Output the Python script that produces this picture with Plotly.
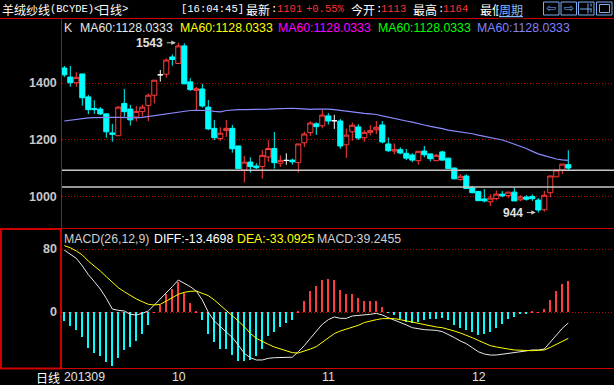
import plotly.graph_objects as go

W, H = 614, 385

# ---------------- data ----------------
idx = list(range(85))
open_ = [1454, 1422, 1402, 1433, 1352, 1311, 1309, 1292, 1225, 1215,
         1329, 1309, 1281, 1300, 1322, 1358, 1430, 1432, 1493, 1470,
         1532, 1405, 1375, 1380, 1316, 1241, 1205, 1233, 1241, 1179,
         1094, 1122, 1108, 1106, 1140, 1170, 1118, 1128, 1129, 1120,
         1190, 1226, 1257, 1250, 1285, 1268, 1267, 1183, 1229, 1246,
         1208, 1227, 1236, 1253, 1186, 1161, 1166, 1153, 1147, 1127,
         1161, 1151, 1127, 1158, 1136, 1101, 1061, 1073, 1032, 1018,
         992, 982, 993, 1009, 1004, 1016, 989, 999, 1001, 988,
         954, 1014, 1070, 1094, 1113]
high = [1461, 1461, 1439, 1433, 1359, 1340, 1316, 1295, 1257, 1320,
        1380, 1324, 1320, 1325, 1364, 1411, 1447, 1488, 1502, 1543,
        1541, 1418, 1387, 1398, 1341, 1271, 1245, 1271, 1253, 1179,
        1144, 1139, 1118, 1165, 1200, 1228, 1146, 1153, 1134, 1186,
        1229, 1266, 1262, 1306, 1295, 1289, 1274, 1241, 1262, 1256,
        1235, 1252, 1267, 1267, 1209, 1188, 1174, 1168, 1153, 1160,
        1179, 1151, 1151, 1162, 1136, 1103, 1080, 1079, 1038, 1021,
        1027, 1009, 1022, 1020, 1016, 1031, 1005, 1005, 1008, 995,
        1020, 1073, 1094, 1115, 1164]
low = [1422, 1388, 1388, 1321, 1291, 1292, 1288, 1208, 1194, 1215,
       1282, 1251, 1266, 1282, 1266, 1329, 1406, 1420, 1462, 1470,
       1398, 1373, 1306, 1314, 1235, 1200, 1197, 1211, 1155, 1099,
       1050, 1085, 1098, 1064, 1123, 1099, 1105, 1113, 1113, 1085,
       1175, 1214, 1218, 1241, 1255, 1239, 1169, 1137, 1197, 1200,
       1194, 1216, 1221, 1188, 1158, 1150, 1150, 1129, 1122, 1113,
       1139, 1124, 1125, 1127, 1099, 1061, 1056, 1027, 1012, 986,
       980, 967, 987, 998, 995, 985, 984, 986, 985, 944,
       947, 998, 1070, 1080, 1094]
close = [1430, 1402, 1421, 1349, 1307, 1307, 1292, 1229, 1220, 1316,
         1300, 1271, 1301, 1316, 1358, 1411, 1430, 1482, 1484, 1532,
         1398, 1378, 1381, 1320, 1239, 1208, 1224, 1241, 1169, 1099,
         1122, 1106, 1102, 1146, 1170, 1120, 1128, 1128, 1123, 1186,
         1221, 1260, 1247, 1288, 1267, 1268, 1179, 1217, 1252, 1207,
         1227, 1233, 1245, 1193, 1162, 1166, 1154, 1136, 1129, 1160,
         1148, 1134, 1146, 1129, 1099, 1063, 1072, 1029, 1014, 986,
         985, 995, 1009, 1003, 1016, 985, 999, 991, 993, 953,
         1005, 1073, 1094, 1115, 1101]
ma60 = [1267, 1270, 1274, 1276, 1278, 1279, 1280, 1280, 1280, 1280,
        1279, 1278, 1278, 1280, 1283, 1286, 1289, 1293, 1297, 1300,
        1302, 1304, 1305, 1305, 1304, 1301, 1299, 1304, 1306, 1307,
        1307, 1307, 1308, 1308, 1309, 1310, 1311, 1312, 1312, 1311,
        1309, 1308, 1309, 1310, 1309, 1307, 1304, 1301, 1299, 1296,
        1294, 1292, 1290, 1285, 1280, 1276, 1271, 1267, 1263, 1259,
        1253, 1248, 1245, 1240, 1235, 1232, 1228, 1225, 1222, 1217,
        1213, 1209, 1204, 1200, 1193, 1186, 1178, 1170, 1160, 1151,
        1145, 1138, 1133, 1130, 1128.0333]
macd_hist = [-11, -17, -22, -31, -45, -52, -56, -63.5, -68, -58,
             -48, -44, -36, -27, -16, 0.3, 9, 23, 30, 39,
             25, 12, 2, -10, -27, -38, -47, -47, -54, -62,
             -62, -60.5, -55, -46, -30, -25, -18, -14, -10, 1,
             14, 27.5, 34, 41, 42, 41, 28, 23, 23, 18.6,
             14, 14, 14, 7, -0.5, -4, -9, -12, -14, -12,
             -10, -9, -8, -7, -10, -16, -19.5, -22, -25, -29,
             -28, -24.5, -20, -15, -8.5, -5.5, -2.5, -1, 1.7, 0.3,
             4, 16, 27, 36, 39.2455]
diff = [79, 73.7, 68.6, 59, 48, 39, 29.6, 17.8, 4.2, 2.5,
        1.7, -2.5, -3.4, -1.3, 1.7, 9.3, 17, 24, 32.6, 41,
        36.8, 32.6, 27, 15.7, 0, -11, -18, -24.5, -32, -41.5,
        -52, -57.6, -60.5, -60.5, -58.4, -57.6, -57.6, -57.6, -57, -50,
        -42.3, -33, -23.7, -15.2, -9.3, -5.9, -7.6, -7.6, -4.7, -4.2,
        -3.8, -2.5, -1.3, -3.4, -6.8, -9.7, -12.7, -16, -19.5, -21,
        -22, -22.4, -22.9, -24.5, -28, -32, -36.4, -39.8, -44.9, -50,
        -52.9, -54.2, -54.2, -53.3, -52, -51.2, -50, -49, -47.8, -47.8,
        -46.6, -38, -28.8, -20.3, -13.4698]
dea = [84.7, 82, 78, 72.8, 65, 59.3, 52.5, 45.3, 38, 31.3,
       26.2, 21.2, 17, 13.5, 10.2, 9.3, 10.2, 14.4, 18.6, 22.9,
       25.4, 26.7, 27, 24, 21.2, 15.7, 9.3, 3, -3.4, -11,
       -18.2, -26.7, -33, -37.3, -40.6, -44, -46.6, -49, -51.2, -51.6,
       -49.3, -46.6, -43.6, -38, -32.2, -27, -23.7, -21.2, -18.2, -16.5,
       -13, -11, -9.3, -8, -7.6, -8, -9.3, -11, -12.7, -14.4,
       -16, -17.8, -18.6, -19.5, -21.2, -23.7, -26.2, -28.8, -32.2, -35.6,
       -39.4, -42.3, -44, -45.7, -46.6, -47.8, -48.3, -48.7, -48.7, -48.3,
       -47.8, -44.5, -40.6, -36.8, -33.0925]

month_ticks = [0, 18, 43, 68]
month_labels = ["201309", "10", "11", "12"]
price_ticks = [1000, 1200, 1400]
macd_ticks = [0, 80]
level_lines = [1093, 1034]
hi_idx, hi_val = 19, 1543
lo_idx, lo_val = 79, 944

# ---------------- styling ----------------
RED = "#ff3c3c"
CYAN = "#00ffff"
FRAME = "#d00000"
GRID = "#c00000"
LBL = "#c8c8c8"
CJK = "Noto Sans CJK SC"
MONO = "Liberation Mono, DejaVu Sans Mono"
SANS = "Liberation Sans, Arial"


def px(x):
    return x / W


def py(y):
    return 1 - y / H


XR = [-0.383, 91.617]

doji = [o == c for o, c in zip(open_, close)]
normal = [not d for d in doji]


def keep(arr, flags):
    return [v if f else None for v, f in zip(arr, flags)]


fig = go.Figure()

fig.add_trace(go.Candlestick(
    x=idx, open=keep(open_, normal), high=keep(high, normal),
    low=keep(low, normal), close=keep(close, normal),
    increasing=dict(line=dict(color=RED, width=1), fillcolor="#000000"),
    decreasing=dict(line=dict(color=CYAN, width=1), fillcolor=CYAN),
    whiskerwidth=0, hoverinfo="skip", xaxis="x", yaxis="y"))

fig.add_trace(go.Candlestick(
    x=idx, open=keep(open_, doji), high=keep(high, doji),
    low=keep(low, doji), close=keep(close, doji),
    increasing=dict(line=dict(color="#ffffff", width=1), fillcolor="#ffffff"),
    decreasing=dict(line=dict(color="#ffffff", width=1), fillcolor="#ffffff"),
    whiskerwidth=0, hoverinfo="skip", xaxis="x", yaxis="y"))

fig.add_trace(go.Scatter(x=idx, y=ma60, mode="lines",
                         line=dict(color="#8a8aff", width=1.2),
                         hoverinfo="skip", xaxis="x", yaxis="y"))

fig.add_trace(go.Bar(x=idx, y=macd_hist, width=0.2,
                     marker=dict(color=[RED if v >= 0 else CYAN for v in macd_hist],
                                 line=dict(width=0)),
                     hoverinfo="skip", xaxis="x2", yaxis="y2"))
fig.add_trace(go.Scatter(x=idx, y=diff, mode="lines",
                         line=dict(color="#e8e8e8", width=1),
                         hoverinfo="skip", xaxis="x2", yaxis="y2"))
fig.add_trace(go.Scatter(x=idx, y=dea, mode="lines",
                         line=dict(color="#ffff00", width=1),
                         hoverinfo="skip", xaxis="x2", yaxis="y2"))

shapes = []
for lv in level_lines:
    shapes.append(dict(type="line", xref="paper", yref="y", x0=px(62), x1=1,
                       y0=lv, y1=lv, line=dict(color="#c8c8c8", width=1.5)))
# frame lines
for yy in (18.5, 228.5, 368.5):
    shapes.append(dict(type="line", xref="paper", yref="paper", x0=0, x1=1,
                       y0=py(yy), y1=py(yy), line=dict(color=FRAME, width=1)))
shapes.append(dict(type="line", xref="paper", yref="paper", x0=px(61.5), x1=px(61.5),
                   y0=py(18.5), y1=py(368.5), line=dict(color=FRAME, width=1)))
shapes.append(dict(type="rect", xref="paper", yref="paper", x0=px(1), x1=px(61),
                   y0=py(229), y1=py(368.5), line=dict(color=FRAME, width=2)))
# header buttons
BTN = "#78aef0"
for bx in (543.5, 561, 578.5, 596.5):
    shapes.append(dict(type="rect", xref="paper", yref="paper", x0=px(bx), x1=px(bx + 15.5),
                       y0=py(2), y1=py(15), line=dict(color=BTN, width=1)))
shapes.append(dict(type="line", xref="paper", yref="paper", x0=px(580), x1=px(592),
                   y0=py(9), y1=py(9), line=dict(color=BTN, width=1)))
shapes.append(dict(type="line", xref="paper", yref="paper", x0=px(588), x1=px(588),
                   y0=py(3.5), y1=py(13.5), line=dict(color=BTN, width=1)))
shapes.append(dict(type="line", xref="paper", yref="paper", x0=px(591), x1=px(591),
                   y0=py(3.5), y1=py(13.5), line=dict(color=BTN, width=1, dash="dot")))
shapes.append(dict(type="rect", xref="paper", yref="paper", x0=px(599.5), x1=px(609.5),
                   y0=py(4.5), y1=py(12.5), line=dict(color=BTN, width=1)))

ann = []


def txt(x, y, s, color, size=12, family=CJK, anchor="left", **kw):
    ann.append(dict(x=px(x), y=py(y), xref="paper", yref="paper", text=s,
                    showarrow=False, xanchor=anchor, yanchor="middle",
                    borderpad=0, font=dict(color=color, size=size, family=family), **kw))


HRED = "#ff3232"
# header
txt(1, 9, "羊绒纱线", "#ffffff")
txt(49, 9, "(BCYDE)<", "#ffffff", size=10.5, family=MONO)
txt(97, 9, "日线", "#ffffff")
txt(121, 9, ">", "#ffffff", size=10.5, family=MONO)
txt(180, 9, "[16:04:45]", "#ffffff", size=10.5, family=MONO)
txt(245, 9, "最新", "#ffffff")
txt(270, 9, ":", "#ffffff", size=10.5, family=MONO)
txt(276, 9, "1101", HRED, size=10.5, family=MONO)
txt(305, 9, "+0.55%", HRED, size=10.5, family=MONO)
txt(350, 9, "今开", "#ffffff")
txt(375, 9, ":", "#ffffff", size=10.5, family=MONO)
txt(380, 9, "1113", HRED, size=10.5, family=MONO)
txt(412, 9, "最高", "#ffffff")
txt(437, 9, ":", "#ffffff", size=10.5, family=MONO)
txt(442, 9, "1164", HRED, size=10.5, family=MONO)
txt(479, 9, "最低", "#ffffff")
txt(498, 9, "<u>周期</u>", "#80b8ff", bgcolor="#000000")
txt(545, 8.5, "⇦", BTN, size=12, family="DejaVu Sans")
txt(562.5, 8.5, "⇨", BTN, size=12, family="DejaVu Sans")

# MA row
txt(63, 28, "K", "#e0e0e0", size=12.3, family=SANS)
ma_cols = ["#e8e8e8", "#ffff00", "#ff00ff", "#00ff00", "#8080ff"]
ma_x = [79, 179, 277, 377, 476]
for xx, cc in zip(ma_x, ma_cols):
    txt(xx, 28, "MA60:1128.0333", cc, size=12.3, family=SANS)

# MACD row
txt(63, 239, "MACD(26,12,9)", "#d0d0d0", size=12.3, family=SANS)
txt(153, 239, "DIFF:-13.4698", "#ffffff", size=12.3, family=SANS)
txt(236, 239, "DEA:-33.0925", "#ffff00", size=12.3, family=SANS)
txt(316, 239, "MACD:39.2455", "#d0d0d0", size=12.3, family=SANS)

# bottom row
txt(35, 377, "日线", "#ffffff")
for m, lab in zip(month_ticks, month_labels):
    ann.append(dict(x=m, xref="x2", y=py(377), yref="paper", text=lab, showarrow=False,
                    xanchor="left", yanchor="middle", xshift=-1.5, borderpad=0,
                    font=dict(color="#e0e0e0", size=12.3, family=SANS)))

# y tick labels
for v in price_ticks:
    ann.append(dict(x=px(57.5), xref="paper", y=v, yref="y", text=f"<b>{v}</b>",
                    showarrow=False, xanchor="right", yanchor="middle", borderpad=0,
                    font=dict(color=LBL, size=12.5, family=SANS)))
for v in macd_ticks:
    ann.append(dict(x=px(57.5), xref="paper", y=v, yref="y2", text=f"<b>{v}</b>",
                    showarrow=False, xanchor="right", yanchor="middle", borderpad=0,
                    font=dict(color=LBL, size=12.5, family=SANS)))

# high / low markers
for i_, v_ in ((hi_idx, hi_val), (lo_idx, lo_val)):
    ann.append(dict(x=i_, y=v_, xref="x", yref="y", text=f"<b>{v_}</b>", showarrow=False,
                    xanchor="right", yanchor="middle", xshift=-14, borderpad=0,
                    font=dict(color="#e0e0e0", size=12, family=SANS)))
    ann.append(dict(x=i_, y=v_, xref="x", yref="y", text="", showarrow=True,
                    ax=-13, ay=0, standoff=2.5, arrowhead=2, arrowsize=0.9,
                    arrowwidth=1, arrowcolor="#c8c8c8"))

fig.update_layout(
    width=W, height=H, margin=dict(l=0, r=0, t=0, b=0),
    paper_bgcolor="#000000", plot_bgcolor="#000000",
    showlegend=False, boxgap=0.15, boxgroupgap=0, bargap=0,
    shapes=shapes, annotations=ann,
    xaxis=dict(domain=[px(62), 1], range=XR, showticklabels=False, showgrid=False,
               zeroline=False, showline=False, rangeslider=dict(visible=False),
               anchor="y", fixedrange=True),
    yaxis=dict(domain=[py(228), py(18)], range=[889.5, 1630.4], tickvals=price_ticks,
               showticklabels=False, showgrid=True, gridcolor=GRID, griddash="1px,2px",
               gridwidth=1, zeroline=False, showline=False, anchor="x", fixedrange=True),
    xaxis2=dict(domain=[px(62), 1], range=XR, showticklabels=False, showgrid=False,
                zeroline=False, showline=False, anchor="y2", fixedrange=True),
    yaxis2=dict(domain=[py(369), py(229)], range=[-71.95, 105.8], tickvals=macd_ticks,
                showticklabels=False, showgrid=True, gridcolor=GRID, griddash="1px,2px",
                gridwidth=1, zeroline=False, showline=False, anchor="x2", fixedrange=True),
)

fig.write_html("out.html", config={"displayModeBar": False},
               post_script="document.body.style.margin='0';"
                           "document.body.style.overflow='hidden';"
                           "document.body.style.background='#000';")
